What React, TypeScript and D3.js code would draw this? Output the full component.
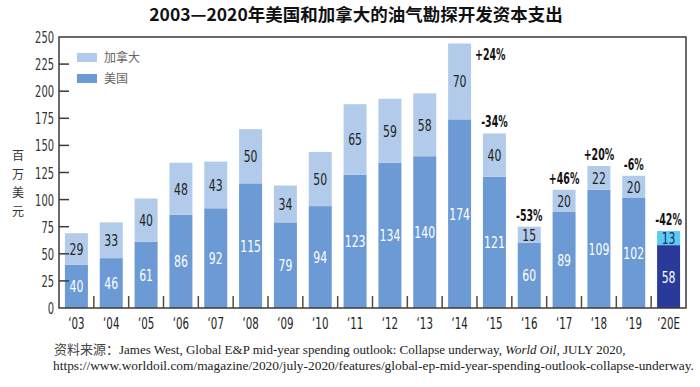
import React from "react";
import * as d3 from "d3";

const years = ["‘03", "‘04", "‘05", "‘06", "‘07", "‘08", "‘09", "‘10", "‘11", "‘12", "‘13", "‘14", "‘15", "‘16", "‘17", "‘18", "‘19", "‘20E"];
const usValues = [40, 46, 61, 86, 92, 115, 79, 94, 123, 134, 140, 174, 121, 60, 89, 109, 102, 58];
const canadaValues = [29, 33, 40, 48, 43, 50, 34, 50, 65, 59, 58, 70, 40, 15, 20, 22, 20, 13];
const changeLabels = ["", "", "", "", "", "", "", "", "", "", "", "+24%", "-34%", "-53%", "+46%", "+20%", "-6%", "-42%"];
const yTicks = [0, 25, 50, 75, 100, 125, 150, 175, 200, 225, 250];
const legendItems = [
  { name: "加拿大", color: "#b3cbea" },
  { name: "美国", color: "#6b9ad4" },
];

const W = 700;
const H = 387;
const M = { left: 59, right: 686, top: 37, bottom: 308 };

const CANADA = "#b3cbea";
const US = "#6b9ad4";
const CANADA_E = "#5ccbf1";
const US_E = "#2a3a9b";
const NARROW = "'DejaVu Sans', sans-serif";
const CJK = "'Noto Sans CJK SC', sans-serif";
const SERIF = "'Liberation Serif', 'Times New Roman', serif";

type NProps = {
  x: number;
  y: number;
  anchor?: "start" | "middle" | "end";
  size: number;
  sx: number;
  fill: string;
  bold?: boolean;
  children: React.ReactNode;
};

function NText({ x, y, anchor = "middle", size, sx, fill, bold, children }: NProps) {
  return (
    <text
      transform={`translate(${x},${y}) scale(${sx},1)`}
      textAnchor={anchor}
      fontFamily={NARROW}
      fontSize={size}
      fontWeight={bold ? "bold" : "normal"}
      fill={fill}
    >
      {children}
    </text>
  );
}

export default function App() {
  const x = d3.scaleBand<string>().domain(years).range([M.left, M.right]).paddingInner(0.34).paddingOuter(0.17);
  const y = d3.scaleLinear().domain([0, 250]).range([M.bottom, M.top]);
  const step = x.step();
  const bw = x.bandwidth();
  const lastIdx = years.length - 1;

  return (
    <svg width={W} height={H} style={{ position: "absolute", left: 0, top: 0, background: "#fff" }}>
      <rect x={0} y={0} width={W} height={H} fill="#fff" />
      <text x={356} y={21} textAnchor="middle" fontFamily={CJK} fontWeight="bold" fontSize={17.5} fill="#111">
        2003—2020年美国和加拿大的油气勘探开发资本支出
      </text>

      {/* bars */}
      {years.map((yr, i) => {
        const x0 = x(yr)!;
        const us = usValues[i];
        const ca = canadaValues[i];
        const isE = i === lastIdx;
        const cx = x0 + bw / 2;
        const top = y(us + ca);
        return (
          <g key={yr}>
            <rect x={x0} y={y(us)} width={bw} height={y(0) - y(us)} fill={isE ? US_E : US} />
            <rect x={x0} y={y(us + ca)} width={bw} height={y(us) - y(us + ca)} fill={isE ? CANADA_E : CANADA} />
            <NText x={cx} y={y(us / 2) + 6} size={16} sx={0.68} fill="#fff">
              {us}
            </NText>
            <NText x={cx} y={y(us + ca / 2) + 6} size={16} sx={0.68} fill={isE ? "#1b2a6b" : "#222"}>
              {ca}
            </NText>
            {changeLabels[i] && (i === 11 ? (
              <NText x={x0 + bw + 4} y={top + 16} anchor="start" size={15} sx={0.63} bold fill="#111">
                {changeLabels[i]}
              </NText>
            ) : (
              <NText x={cx} y={top - 6} size={15} sx={0.63} bold fill="#111">
                {changeLabels[i]}
              </NText>
            ))}
          </g>
        );
      })}

      {/* frame */}
      <rect x={M.left} y={M.top} width={M.right - M.left} height={M.bottom - M.top} fill="none" stroke="#3a3a3a" strokeWidth={1.5} />

      {/* y ticks */}
      {yTicks.map((t) => (
        <g key={t}>
          {t > 0 && t < 250 && <line x1={M.left} x2={M.left + 10} y1={y(t)} y2={y(t)} stroke="#3a3a3a" strokeWidth={1.5} />}
          <NText x={M.left - 5} y={y(t) + 6} anchor="end" size={16} sx={0.62} fill="#333">
            {t}
          </NText>
        </g>
      ))}

      {/* x ticks */}
      {years.slice(1).map((yr) => {
        const xx = x(yr)! - (step - bw) / 2;
        return <line key={yr} x1={xx} x2={xx} y1={M.bottom} y2={M.bottom - 12} stroke="#5a4a3a" strokeWidth={1.5} />;
      })}
      {years.map((yr) => (
        <NText key={yr} x={x(yr)! + bw / 2} y={329} size={16} sx={0.64} fill="#222">
          {yr}
        </NText>
      ))}

      {/* y label */}
      {["百", "万", "美", "元"].map((c, i) => (
        <text key={c} x={18} y={160 + i * 18.5} textAnchor="middle" fontFamily={CJK} fontSize={12} fill="#333">
          {c}
        </text>
      ))}

      {/* legend */}
      {legendItems.map((l, i) => (
        <g key={l.name}>
          <rect x={77} y={53 + i * 21} width={20} height={9} fill={l.color} />
          <text x={104} y={62 + i * 21} fontFamily={CJK} fontSize={12} fill="#666">
            {l.name}
          </text>
        </g>
      ))}

      {/* source */}
      <text x={54} y={354} fontFamily={SERIF} fontSize={13} fill="#222">
        <tspan fontFamily={CJK} fontSize={13} fill="#444">资料来源：</tspan>
        <tspan fontFamily={SERIF}>James West, Global E&amp;P mid-year spending outlook: Collapse underway, </tspan>
        <tspan fontFamily={SERIF} fontStyle="italic">World Oil</tspan>
        <tspan fontFamily={SERIF}>, JULY 2020,</tspan>
      </text>
      <text x={53} y={370} fontFamily={SERIF} fontSize={13.4} fill="#222">
        https://www.worldoil.com/magazine/2020/july-2020/features/global-ep-mid-year-spending-outlook-collapse-underway.
      </text>
    </svg>
  );
}
